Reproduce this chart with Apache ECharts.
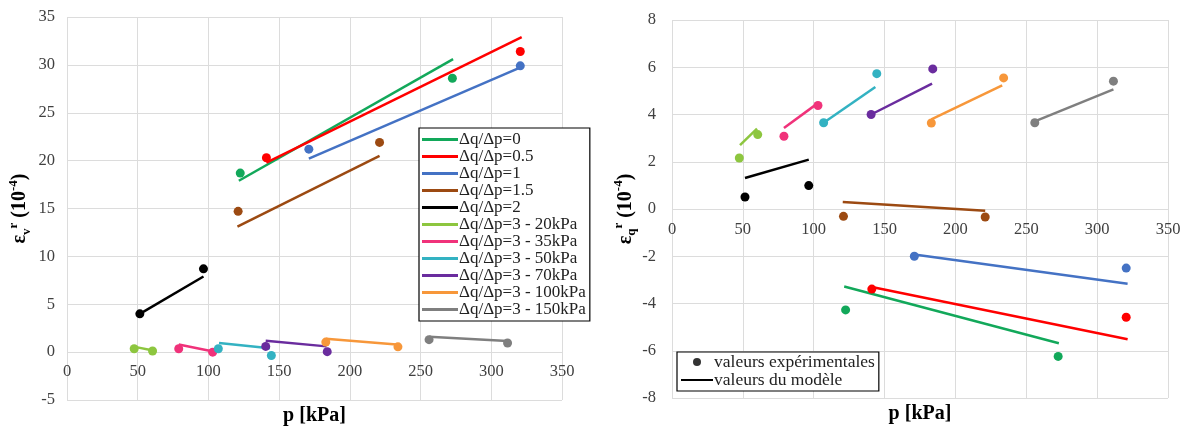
<!DOCTYPE html>
<html>
<head>
<meta charset="utf-8">
<script src="https://cdn.jsdelivr.net/npm/echarts@6/dist/echarts.min.js"></script>
<style>html,body{margin:0;padding:0;background:#fff}#c{width:1186px;height:432px}</style>
</head>
<body>
<div id="c"></div>
<script>
// ---- data ----
const seriesNames = ['Δq/Δp=0','Δq/Δp=0.5','Δq/Δp=1','Δq/Δp=1.5','Δq/Δp=2','Δq/Δp=3 - 20kPa','Δq/Δp=3 - 35kPa','Δq/Δp=3 - 50kPa','Δq/Δp=3 - 70kPa','Δq/Δp=3 - 100kPa','Δq/Δp=3 - 150kPa'];
const seriesColors = ['#12A85A','#FF0000','#4472C4','#9C4A12','#000000','#8DC63F','#F0327A','#33B2C2','#6A2C9E','#F7973A','#7F7F7F'];
// experimental points: p (kPa)
const expP = [[122.5,272.5],[141,320.5],[171,320.5],[121,221],[51.5,96.5],[47.5,60.5],[79,103],[107,144.5],[140.5,184],[183,234],[256,311.5]];
// experimental εv^r (1e-4)
const expEv = [[18.7,28.6],[20.3,31.4],[21.2,29.9],[14.7,21.9],[4.0,8.7],[0.35,0.12],[0.35,0.0],[0.35,-0.35],[0.6,0.05],[1.05,0.55],[1.3,0.95]];
// experimental εq^r (1e-4)
const expEq = [[-4.27,-6.24],[-3.39,-4.58],[-2.0,-2.5],[-0.31,-0.34],[0.51,0.99],[2.16,3.15],[3.08,4.38],[3.65,5.73],[4.0,5.93],[3.64,5.55],[3.65,5.41]];
// model lines: p (kPa)
const modelP = [[121.5,273],[141,321.5],[171,321.5],[120.5,221],[51.5,96.5],[48,60],[79,102.5],[107.5,143.5],[140.5,183.5],[183,233],[256,311.5]];
// model εv^r
const modelEv = [[17.9,30.6],[19.8,32.9],[20.2,29.8],[13.1,20.5],[4.0,7.9],[0.55,0.2],[0.8,0.1],[0.95,0.4],[1.2,0.6],[1.4,0.8],[1.6,1.15]];
// model εq^r
const modelEq = [[-3.28,-5.68],[-3.3,-5.51],[-1.93,-3.16],[0.3,-0.07],[1.31,2.09],[2.7,3.4],[3.43,4.46],[3.67,5.16],[4.0,5.31],[3.79,5.23],[3.71,5.06]];
const legendRight = ['valeurs expérimentales','valeurs du modèle'];

// ---- chart ----
const SERIF = 'Liberation Serif';
const chart = echarts.init(document.getElementById('c'), null, {renderer:'canvas'});
const gridLine = {lineStyle:{color:'#dcdcdc', width:1}};
const tickFont = {fontFamily:SERIF, fontSize:16.5, color:'#404040'};
const nameRich = {
  e:{fontFamily:SERIF, fontSize:20, fontWeight:'bold', color:'#000', lineHeight:26, verticalAlign:'middle'},
  sub:{fontFamily:SERIF, fontSize:13, fontWeight:'bold', color:'#000', lineHeight:26, verticalAlign:'bottom'},
  sup:{fontFamily:SERIF, fontSize:13, fontWeight:'bold', color:'#000', lineHeight:26, verticalAlign:'top'}
};
function pair(px, py){ return px.map((v,i)=>[v, py[i]]); }
const series = [];
[[modelEv, expEv, 0],[modelEq, expEq, 1]].forEach(([m, e, g])=>{
  seriesNames.forEach((nm, i)=>{
    series.push({name:nm, type:'line', xAxisIndex:g, yAxisIndex:g, symbol:'none', z:2,
      data:pair(modelP[i], m[i]), lineStyle:{color:seriesColors[i], width:2.5}, itemStyle:{color:seriesColors[i]}});
  });
  seriesNames.forEach((nm, i)=>{
    series.push({name:nm, type:'scatter', xAxisIndex:g, yAxisIndex:g, symbol:'circle', symbolSize:9, z:3,
      data:pair(expP[i], e[i]), itemStyle:{color:seriesColors[i], opacity:1}});
  });
});
series.push({name:legendRight[0], type:'scatter', xAxisIndex:1, yAxisIndex:1, data:[], itemStyle:{color:'#000'}});
series.push({name:legendRight[1], type:'line', xAxisIndex:1, yAxisIndex:1, data:[], symbol:'none', lineStyle:{color:'#000', width:2.5}, itemStyle:{color:'#000'}});

// x labels are drawn just below the zero line (negative margin from the bottom edge)
function xAx(g, labelMargin, gap){
  return {type:'value', gridIndex:g, min:0, max:350, interval:50, position:'bottom',
    axisLine:{show:false, onZero:false},
    axisTick:{show:false}, axisLabel:Object.assign({margin:labelMargin}, tickFont), splitLine:gridLine,
    name:'p [kPa]', nameLocation:'middle', nameGap:gap,
    nameTextStyle:{fontFamily:SERIF, fontSize:20, fontWeight:'bold', color:'#000'}};
}
function yAx(g, mn, mx, iv, nm, margin, gap){
  return {type:'value', gridIndex:g, min:mn, max:mx, interval:iv,
    axisLine:{show:false}, axisTick:{show:false}, axisLabel:Object.assign({margin:margin}, tickFont),
    splitLine:{lineStyle:{color:['#dcdcdc'], width:1}},
    name:nm, nameLocation:'middle', nameRotate:90, nameGap:gap,
    nameTextStyle:{fontFamily:SERIF, fontSize:20, fontWeight:'bold', color:'#000', rich:nameRich}};
}

chart.setOption({
  animation:false,
  backgroundColor:'#fff',
  grid:[
    {left:67, top:17, width:495, height:383, outerBoundsMode:'none', containLabel:false},
    {left:672, top:20, width:496, height:378, outerBoundsMode:'none', containLabel:false}
  ],
  xAxis:[xAx(0, -37, 3), xAx(1, -177, 5)],
  yAxis:[
    yAx(0, -5, 35, 5, '{e|ε}{sub|v}{sup|r}{e| (10}{sup|-4}{e|)}', 12, 34),
    yAx(1, -8, 8, 2, '{e|ε}{sub|q}{sup|r}{e| (10}{sup|-4}{e|)}', 16, 31)
  ],
  legend:[
    {data:seriesNames.map(n=>({name:n, icon:'rect'})), orient:'vertical', left:419, top:128,
     itemWidth:36, itemHeight:3, itemGap:0, padding:[3,4,3,3],
     backgroundColor:'#fff', borderColor:'#000', borderWidth:1.2,
     textStyle:{fontFamily:SERIF, fontSize:17, color:'#222', lineHeight:14, padding:[0,0,0,-4]}, selectedMode:false},
    {data:[{name:legendRight[0], icon:'circle'},{name:legendRight[1], icon:'path://M0,0H40V2.5H0Z'}],
     orient:'vertical', left:677, top:352, itemWidth:32, itemHeight:8, itemGap:0, padding:[1,4,2,4],
     backgroundColor:'#fff', borderColor:'#000', borderWidth:1.2,
     textStyle:{fontFamily:SERIF, fontSize:17.5, color:'#222', lineHeight:17, padding:[0,0,0,-4]}, selectedMode:false}
  ],
  series:series
});
</script>
</body>
</html>
